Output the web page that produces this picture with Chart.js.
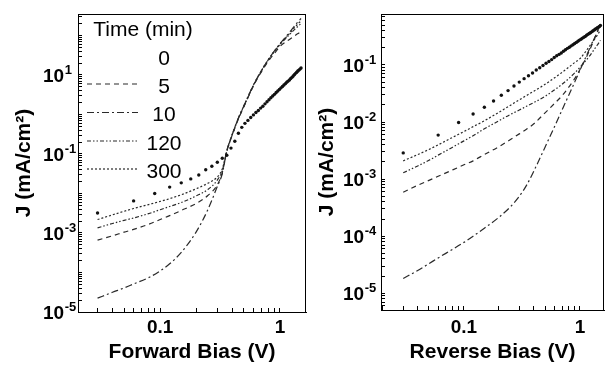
<!DOCTYPE html>
<html>
<head>
<meta charset="utf-8">
<script src="https://cdn.jsdelivr.net/npm/chart.js@4/dist/chart.umd.min.js"></script>
<style>
  html, body { margin: 0; padding: 0; background: #fff; }
  #wrap { position: relative; width: 608px; height: 367px; }
  #left { position: absolute; left: 0; top: 0; }
  #right { position: absolute; left: 312px; top: 0; }
</style>
</head>
<body>
<div id="wrap">
  <canvas id="left" width="312" height="367"></canvas>
  <canvas id="right" width="296" height="367"></canvas>
</div>
<script>
// legend entries (time in min)
const times = ['0', '5', '10', '120', '300'];

// bias points (V): the 0 min curve is sampled every 30 mV, the others on a coarser grid
const biasDots = [0.03, 0.06, 0.09, 0.12, 0.15, 0.18, 0.21, 0.24, 0.27, 0.30,
  0.33, 0.36, 0.39, 0.42, 0.45, 0.48, 0.51, 0.54, 0.57, 0.60,
  0.63, 0.66, 0.69, 0.72, 0.75, 0.78, 0.81, 0.84, 0.87, 0.90,
  0.93, 0.96, 0.99, 1.02, 1.05, 1.08, 1.11, 1.14, 1.17, 1.20,
  1.23, 1.26, 1.29, 1.32, 1.35, 1.38, 1.41, 1.44, 1.47, 1.50];
const fwdBias = [0.03, 0.04, 0.05, 0.06, 0.08, 0.1, 0.12, 0.15, 0.2, 0.25, 0.3, 0.33,
  0.36, 0.4, 0.45, 0.5, 0.6, 0.7, 0.8, 0.9, 1.0, 1.2, 1.4, 1.5];
const revBias = [0.03, 0.04, 0.05, 0.06, 0.08, 0.1, 0.12, 0.15, 0.2, 0.25, 0.3,
  0.35, 0.4, 0.5, 0.6, 0.7, 0.8, 0.9, 1.0, 1.2, 1.4, 1.5];

// forward bias J (mA/cm2)
const fwd0 = [3.2e-3, 6.5e-3, 1.0e-2, 1.45e-2, 1.86e-2, 2.34e-2, 2.95e-2, 3.98e-2, 4.9e-2, 6.2e-2,
  7.8e-2, 9.3e-2, 0.141, 0.211, 0.335, 0.473, 0.596, 0.708, 0.841, 0.977,
  1.12, 1.26, 1.45, 1.62, 1.86, 2.11, 2.37, 2.66, 2.95, 3.24,
  3.59, 3.94, 4.32, 4.73, 5.13, 5.56, 6.03, 6.53, 7.0, 7.5,
  8.13, 8.71, 9.44, 10.2, 11.0, 11.7, 12.6, 13.3, 14.1, 15.0];
const fwd5 = [6.6e-4, 8.5e-4, 1.05e-3, 1.23e-3, 1.66e-3, 2.19e-3, 2.75e-3, 3.72e-3, 5.6e-3, 8.9e-3, 1.66e-2, 3.39e-2,
  0.117, 0.302, 0.776, 1.58, 5.25, 12.0, 22.4, 35.5, 52.5, 79.4, 110, 126];
const fwd10 = [2.24e-5, 3.16e-5, 4.07e-5, 5.13e-5, 7.4e-5, 1.1e-4, 1.66e-4, 3.24e-4, 1.07e-3, 3.89e-3, 1.51e-2, 3.16e-2,
  0.12, 0.316, 0.813, 1.66, 5.5, 12.9, 24.5, 40.7, 61.7, 120, 214, 269];
const fwd120 = [1.35e-3, 1.74e-3, 2.09e-3, 2.4e-3, 3.09e-3, 3.89e-3, 4.68e-3, 5.9e-3, 8.7e-3, 1.26e-2, 2.19e-2, 3.8e-2,
  0.117, 0.309, 0.794, 1.62, 5.37, 12.6, 24.3, 39.8, 58.9, 105, 166, 200];
const fwd300 = [2.19e-3, 2.88e-3, 3.55e-3, 4.17e-3, 5.25e-3, 6.3e-3, 7.4e-3, 9.3e-3, 1.32e-2, 1.82e-2, 2.63e-2, 4.17e-2,
  0.117, 0.316, 0.813, 1.66, 5.5, 12.9, 24.5, 40.7, 60.3, 112, 191, 234];

// reverse bias J (mA/cm2)
const rev0 = [2.88e-3, 5.9e-3, 9.8e-3, 1.38e-2, 1.82e-2, 2.34e-2, 2.95e-2, 3.55e-2, 4.27e-2, 5.0e-2,
  5.75e-2, 6.46e-2, 7.24e-2, 8.13e-2, 8.91e-2, 9.77e-2, 0.107, 0.115, 0.124, 0.135,
  0.145, 0.153, 0.162, 0.174, 0.184, 0.195, 0.204, 0.216, 0.226, 0.237,
  0.248, 0.26, 0.272, 0.282, 0.295, 0.305, 0.316, 0.331, 0.343, 0.355,
  0.367, 0.38, 0.394, 0.407, 0.422, 0.432, 0.447, 0.457, 0.473, 0.49];
const rev5 = [5.9e-4, 7.8e-4, 9.5e-4, 1.12e-3, 1.45e-3, 1.78e-3, 2.09e-3, 2.69e-3, 3.7e-3, 4.9e-3, 6.2e-3,
  7.6e-3, 9.3e-3, 1.45e-2, 2.09e-2, 2.88e-2, 4.07e-2, 5.75e-2, 8.3e-2, 0.174, 0.37, 0.52];
const rev10 = [1.82e-5, 2.51e-5, 3.31e-5, 4.17e-5, 5.9e-5, 7.8e-5, 1.0e-4, 1.38e-4, 2.14e-4, 3.24e-4, 5.0e-4,
  8.1e-4, 1.38e-3, 3.63e-3, 8.1e-3, 1.62e-2, 2.95e-2, 5.0e-2, 8.1e-2, 0.186, 0.363, 0.49];
const rev120 = [1.29e-3, 1.7e-3, 2.14e-3, 2.63e-3, 3.63e-3, 4.68e-3, 5.75e-3, 7.6e-3, 1.05e-2, 1.35e-2, 1.62e-2,
  1.91e-2, 2.19e-2, 2.82e-2, 3.63e-2, 4.57e-2, 5.75e-2, 7.24e-2, 9.1e-2, 0.141, 0.219, 0.269];
const rev300 = [2.09e-3, 2.69e-3, 3.31e-3, 3.98e-3, 5.4e-3, 6.8e-3, 8.3e-3, 1.05e-2, 1.48e-2, 1.95e-2, 2.45e-2,
  2.95e-2, 3.47e-2, 4.57e-2, 5.9e-2, 7.4e-2, 9.1e-2, 0.11, 0.129, 0.209, 0.324, 0.407];

// axis ticks
const fwdXTicks = [0.03, 0.04, 0.05, 0.06, 0.07, 0.08, 0.09, 0.1, 0.2, 0.3, 0.4, 0.5, 0.6, 0.7, 0.8, 0.9, 1];
const revXTicks = [0.02, 0.03, 0.04, 0.05, 0.06, 0.07, 0.08, 0.09, 0.1, 0.2, 0.3, 0.4, 0.5, 0.6, 0.7, 0.8, 0.9, 1];
const xLabelValues = [0.1, 1];
const xLabelTexts = ['0.1', '1'];
const fwdDecades = [1e-5, 1e-4, 1e-3, 1e-2, 1e-1, 1, 10, 100];
const revDecades = [1e-6, 1e-5, 1e-4, 1e-3, 1e-2, 1e-1];
const fwdYLabels = [1e-5, 1e-3, 1e-1, 10];
const fwdYExp = ['-5', '-3', '-1', '1'];
const revYLabels = [1e-5, 1e-4, 1e-3, 1e-2, 1e-1];
const revYExp = ['-5', '-4', '-3', '-2', '-1'];

const FONT = '"Liberation Sans", Arial, Helvetica, sans-serif';
Chart.defaults.font.family = FONT;
Chart.defaults.color = '#000';

const dashes = [null, [5, 4], [7, 3, 2, 3], [4, 2, 1.5, 2, 1.5, 2], [2, 2]];

function minorTicks(decades, min, max) {
    let out = [];
    decades.forEach(d => {
        for (let m = 1; m < 10; m++) {
            let v = d * m;
            if (v >= min && v <= max) out.push(v);
        }
    });
    return out;
}

function makeDatasets(dots, bias, lines) {
    let sets = [{
        label: times[0],
        data: biasDots.map((x, i) => ({x: x, y: dots[i]})),
        showLine: false,
        pointRadius: 1.7,
        pointBorderWidth: 0,
        pointBackgroundColor: '#111'
    }];
    lines.forEach((serie, k) => {
        sets.push({
            label: times[k + 1],
            data: bias.map((x, i) => ({x: x, y: serie[i]})),
            showLine: true,
            pointRadius: 0,
            borderColor: '#2a2a2a',
            borderWidth: 1.2,
            borderDash: dashes[k + 1],
            cubicInterpolationMode: 'monotone'
        });
    });
    return sets;
}

const frame = {
    id: 'frame',
    afterDraw(chart) {
        const {ctx, chartArea: a} = chart;
        ctx.save();
        ctx.strokeStyle = '#000';
        ctx.lineWidth = 1;
        ctx.strokeRect(Math.round(a.left) + 0.5, Math.round(a.top) + 0.5,
            Math.round(a.right - a.left) - 1, Math.round(a.bottom - a.top));
        ctx.restore();
    }
};

const expLabels = {
    id: 'expLabels',
    afterDraw(chart, args, opts) {
        const {ctx} = chart;
        const y = chart.scales.y;
        ctx.save();
        ctx.fillStyle = '#000';
        ctx.textBaseline = 'alphabetic';
        ctx.textAlign = 'left';
        opts.values.forEach((v, i) => {
            const py = y.getPixelForValue(v);
            ctx.font = `bold 19px ${FONT}`;
            ctx.fillText('10', opts.x, py + 7);
            const w = ctx.measureText('10').width;
            ctx.font = `bold 13px ${FONT}`;
            ctx.fillText(opts.exps[i], opts.x + w + 0.5, py - 1);
        });
        ctx.restore();
    }
};

const timeLegend = {
    id: 'timeLegend',
    afterDraw(chart) {
        const {ctx} = chart;
        const rows = [57, 85, 113.5, 142, 170];
        ctx.save();
        ctx.fillStyle = '#000';
        ctx.textBaseline = 'alphabetic';
        ctx.textAlign = 'center';
        ctx.font = `21px ${FONT}`;
        ctx.fillText('Time (min)', 143, 36);
        times.forEach((t, i) => {
            ctx.fillText(t, 164, rows[i] + 7.5);
            if (dashes[i]) {
                ctx.strokeStyle = '#2a2a2a';
                ctx.lineWidth = 1.2;
                ctx.setLineDash(dashes[i]);
                ctx.beginPath();
                ctx.moveTo(87, rows[i] - 1);
                ctx.lineTo(138, rows[i] - 1);
                ctx.stroke();
            }
        });
        ctx.restore();
    }
};

function makeChart(canvasId, cfg) {
    const xTicks = cfg.xTicks;
    const yTicks = minorTicks(cfg.decades, cfg.yMin, cfg.yMax);
    return new Chart(document.getElementById(canvasId), {
        type: 'scatter',
        data: {datasets: makeDatasets(cfg.dots, cfg.bias, cfg.lines)},
        options: {
            responsive: false,
            animation: false,
            layout: {padding: {left: 0, top: 14, right: cfg.padRight, bottom: 0}},
            plugins: {
                legend: {display: false},
                tooltip: {enabled: false},
                expLabels: {values: cfg.yLabels, exps: cfg.yExp, x: cfg.labelX}
            },
            scales: {
                x: {
                    type: 'logarithmic',
                    min: cfg.xMin,
                    max: cfg.xMax,
                    afterBuildTicks: s => { s.ticks = xTicks.map(v => ({value: v})); },
                    afterFit: s => { s.height = cfg.xHeight; },
                    grid: {drawOnChartArea: false, drawTicks: true, tickLength: -4, tickColor: '#000'},
                    border: {display: true, color: '#000', width: 1},
                    ticks: {
                        autoSkip: false,
                        maxRotation: 0,
                        padding: cfg.xPad,
                        font: {size: 19, weight: 'bold'},
                        callback: v => {
                            const i = xLabelValues.indexOf(v);
                            return i >= 0 ? xLabelTexts[i] : '';
                        }
                    },
                    title: {
                        display: true,
                        text: cfg.xTitle,
                        font: {size: 21, weight: 'bold'},
                        padding: {top: 0, bottom: 2}
                    }
                },
                y: {
                    type: 'logarithmic',
                    min: cfg.yMin,
                    max: cfg.yMax,
                    afterBuildTicks: s => { s.ticks = yTicks.map(v => ({value: v})); },
                    afterFit: s => { s.width = cfg.yWidth; },
                    grid: {drawOnChartArea: false, drawTicks: true, tickLength: -4, tickColor: '#000'},
                    border: {display: true, color: '#000', width: 1},
                    ticks: {display: false},
                    title: {
                        display: true,
                        text: 'J (mA/cm\u00b2)',
                        font: {size: 21, weight: 'bold'},
                        padding: {top: cfg.yTitlePad, bottom: 0}
                    }
                }
            }
        },
        plugins: cfg.legend ? [frame, expLabels, timeLegend] : [frame, expLabels]
    });
}

makeChart('left', {
    dots: fwd0, bias: fwdBias, lines: [fwd5, fwd10, fwd120, fwd300],
    xTicks: fwdXTicks, xMin: 0.0206, xMax: 1.65,
    decades: fwdDecades, yMin: 1e-5, yMax: 350,
    yLabels: fwdYLabels, yExp: fwdYExp, labelX: 43,
    xTitle: 'Forward Bias (V)',
    padRight: 6, xHeight: 55, yWidth: 78, xPad: 8, yTitlePad: 12,
    legend: true
});

makeChart('right', {
    dots: rev0, bias: revBias, lines: [rev5, rev10, rev120, rev300],
    xTicks: revXTicks, xMin: 0.0193, xMax: 1.61,
    decades: revDecades, yMin: 5.1e-6, yMax: 0.78,
    yLabels: revYLabels, yExp: revYExp, labelX: 31,
    xTitle: 'Reverse Bias (V)',
    padRight: 1, xHeight: 57, yWidth: 69, xPad: 10, yTitlePad: 3,
    legend: false
});
</script>
</body>
</html>
